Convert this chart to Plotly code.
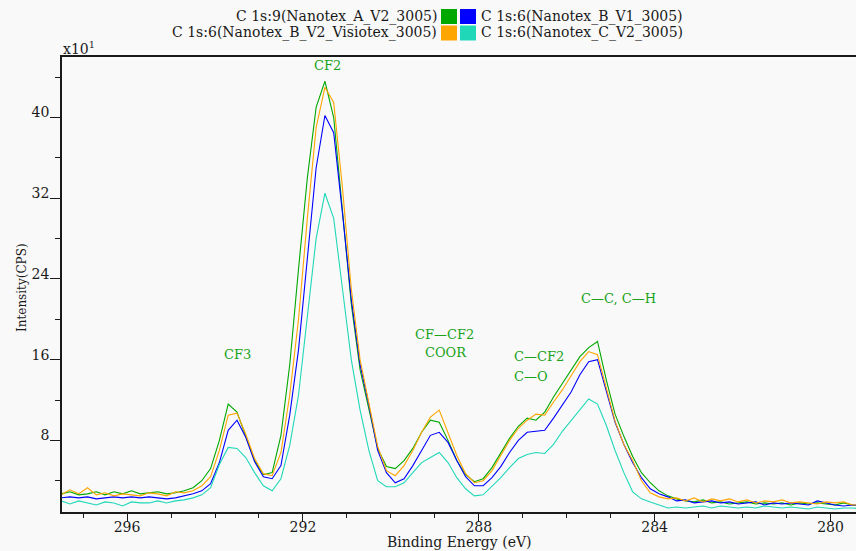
import plotly.graph_objects as go

energy = [297.5, 297.3, 297.1, 296.9, 296.7, 296.5, 296.3, 296.1, 295.9, 295.7,
          295.5, 295.3, 295.1, 294.9, 294.7, 294.5, 294.3, 294.1, 293.9, 293.7,
          293.5, 293.3, 293.1, 292.9, 292.7, 292.5, 292.3, 292.1, 291.9, 291.7,
          291.5, 291.3, 291.1, 290.9, 290.7, 290.5, 290.3, 290.1, 289.9, 289.7,
          289.5, 289.3, 289.1, 288.9, 288.7, 288.5, 288.3, 288.1, 287.9, 287.7,
          287.5, 287.3, 287.1, 286.9, 286.7, 286.5, 286.3, 286.1, 285.9, 285.7,
          285.5, 285.3, 285.1, 284.9, 284.7, 284.5, 284.3, 284.1, 283.9, 283.7,
          283.5, 283.3, 283.1, 282.9, 282.7, 282.5, 282.3, 282.1, 281.9, 281.7,
          281.5, 281.3, 281.1, 280.9, 280.7, 280.5, 280.3, 280.1, 279.9, 279.7,
          279.5, 279.3]

a_v2 = [2.7, 2.9, 2.6, 2.7, 2.9, 2.6, 2.9, 2.7, 3.0, 2.7,
        2.8, 2.9, 2.7, 2.8, 3.0, 3.3, 4.0, 5.2, 8.0, 11.6,
        10.8, 8.5, 6.0, 4.6, 4.8, 8.5, 15.5, 25.0, 34.0, 41.0,
        43.6, 40.0, 31.0, 21.5, 15.0, 11.0, 7.2, 5.4, 5.2, 6.0,
        7.2, 8.8, 10.0, 9.8, 8.0, 6.0, 4.6, 3.9, 4.2, 5.3,
        6.8, 8.2, 9.4, 10.2, 10.0, 10.8, 12.3, 13.6, 15.0, 16.3,
        17.2, 17.8, 14.0, 10.6, 8.4, 6.4, 4.8, 3.8, 3.0, 2.5,
        2.2, 2.0, 1.9, 2.1, 1.8, 1.9, 1.7, 1.8, 1.9, 1.7,
        1.8, 1.7, 1.8, 1.6, 1.8, 1.7, 1.8, 1.7, 1.6, 1.8,
        1.6, 1.5]

b_v1 = [2.3, 2.4, 2.3, 2.4, 2.2, 2.3, 2.4, 2.3, 2.4, 2.3,
        2.4, 2.3, 2.2, 2.3, 2.5, 2.7, 3.0, 3.7, 5.8, 9.0,
        10.0, 8.3, 5.9, 4.4, 4.2, 5.5, 10.5, 17.0, 26.0, 35.0,
        40.2, 38.5, 30.5, 22.0, 15.5, 11.5, 7.0, 4.8, 3.8, 4.2,
        5.5, 7.0, 8.5, 8.8, 7.8, 6.0, 4.4, 3.5, 3.5, 4.3,
        5.4, 6.8, 8.0, 8.8, 8.9, 9.0, 10.2, 11.5, 12.8, 14.5,
        15.8, 16.0, 13.0, 9.8, 7.6, 5.8, 4.3, 3.2, 2.7, 2.4,
        2.0, 2.1, 1.8, 1.9, 2.0, 1.8, 1.9, 1.7, 1.8, 1.9,
        1.6, 1.8, 1.7, 1.8, 1.7, 1.6, 2.0, 1.8, 1.6, 1.5,
        1.6, 1.5]

b_v2_visiotex = [2.6, 3.1, 2.7, 3.3, 2.6, 2.8, 2.5, 2.7, 2.6, 2.5,
                 2.8, 2.7, 2.5, 2.9, 2.8, 3.0, 3.5, 4.4, 7.0, 10.5,
                 10.7, 8.6, 6.2, 4.7, 4.5, 6.8, 12.5, 20.0, 30.0, 39.0,
                 43.0, 41.5, 33.0, 23.0, 16.0, 11.8, 7.4, 5.0, 4.5, 5.5,
                 7.0, 8.8, 10.3, 11.0, 8.8, 6.5, 4.7, 3.8, 4.0, 5.0,
                 6.5, 8.0, 9.2, 10.0, 10.6, 10.5, 11.8, 13.0, 14.4, 15.8,
                 16.8, 16.5, 13.2, 9.9, 7.6, 6.0, 4.0, 2.8, 2.4, 2.2,
                 2.3, 2.0, 2.3, 1.9, 2.2, 2.0, 2.2, 1.9, 2.1, 1.8,
                 2.0, 1.9, 2.1, 1.8, 1.9, 1.8, 1.7, 1.9, 1.8, 1.9,
                 1.6, 1.6]

c_v2 = [2.0, 1.7, 2.0, 1.8, 1.6, 1.9, 1.8, 1.5, 1.9, 1.8,
        1.8, 2.0, 1.8, 2.0, 2.1, 2.3, 2.6, 3.3, 5.6, 7.3,
        7.2, 6.3, 4.8, 3.5, 3.0, 4.2, 7.5, 12.5, 20.0, 28.0,
        32.5, 30.0, 23.0, 16.0, 11.0, 7.0, 4.0, 3.4, 3.4, 3.8,
        4.8, 5.8, 6.3, 6.8, 5.8, 4.3, 3.2, 2.5, 2.6, 3.4,
        4.3, 5.3, 6.2, 6.6, 6.8, 6.7, 7.6, 8.9, 10.0, 11.0,
        12.1, 11.6, 9.5, 7.0, 4.8, 2.9, 2.2, 1.9, 1.6, 1.3,
        1.4, 1.3, 1.4, 1.5, 1.3, 1.5, 1.4, 1.3, 1.4, 1.3,
        1.5, 1.4, 1.3, 1.4, 1.3, 1.2, 1.4, 1.3, 1.2, 1.3,
        1.3, 1.2]

series_names = ["C 1s:9(Nanotex_A_V2_3005)", "C 1s:6(Nanotex_B_V1_3005)",
                "C 1s:6(Nanotex_B_V2_Visiotex_3005)", "C 1s:6(Nanotex_C_V2_3005)"]
series_values = [a_v2, b_v1, b_v2_visiotex, c_v2]
series_colors = ["#00a800", "#0000ff", "#ffa500", "#20d8b8"]

x_tick_vals = [296, 292, 288, 284, 280]
x_tick_text = ["296", "292", "288", "284", "280"]
y_tick_vals = [8, 16, 24, 32, 40]
y_tick_text = ["8", "16", "24", "32", "40"]

peak_labels = ["CF2", "CF3", "CF\u2014CF2", "COOR", "C\u2014C, C\u2014H"]
peak_label_x = [291.45, 293.49, 288.77, 288.75, 284.83]
peak_label_y = [45.2, 16.5, 18.5, 16.7, 22.05]
left_labels = ["C\u2014CF2", "C\u2014O"]
left_label_x = [287.24, 287.24]
left_label_y = [16.3, 14.3]

SERIF = "DejaVu Serif"
LBL_GREEN = "#1aa31a"
INK = "#1a1a1a"

fig = go.Figure()
for name, vals, col in zip(series_names, series_values, series_colors):
    fig.add_trace(go.Scatter(x=energy, y=vals, mode="lines", name=name,
                             line=dict(color=col, width=1.1), showlegend=False))

W, H = 856, 551
L, R, T, B = 62, 0, 57, 39
pw, ph = W - L - R, H - T - B

def px(xp):
    return (xp - L) / pw

def py(yp):
    return (H - B - yp) / ph

annotations = []
for t, x, y in zip(peak_labels, peak_label_x, peak_label_y):
    annotations.append(dict(x=x, y=y, xref="x", yref="y", text=t, showarrow=False,
                            font=dict(family=SERIF, size=13, color=LBL_GREEN),
                            xanchor="center", yanchor="middle"))
for t, x, y in zip(left_labels, left_label_x, left_label_y):
    annotations.append(dict(x=x, y=y, xref="x", yref="y", text=t, showarrow=False,
                            font=dict(family=SERIF, size=13, color=LBL_GREEN),
                            xanchor="left", yanchor="middle"))

# legend (two rows, squares in the middle)
leg_font = dict(family=SERIF, size=14, color=INK)
rows = [(16.5, 0, 1), (33, 2, 3)]
for yc, li, ri in rows:
    annotations.append(dict(x=px(438), y=py(yc), xref="paper", yref="paper",
                            text=series_names[li], showarrow=False, font=leg_font,
                            xanchor="right", yanchor="middle", borderpad=0))
    annotations.append(dict(x=px(480), y=py(yc), xref="paper", yref="paper",
                            text=series_names[ri], showarrow=False, font=leg_font,
                            xanchor="left", yanchor="middle", borderpad=0))

shapes = []
for (yc, li, ri) in rows:
    shapes.append(dict(type="rect", xref="paper", yref="paper",
                       x0=px(441), x1=px(457), y0=py(yc + 7.5), y1=py(yc - 7.5),
                       fillcolor=series_colors[li], line=dict(width=0)))
    shapes.append(dict(type="rect", xref="paper", yref="paper",
                       x0=px(460), x1=px(476), y0=py(yc + 7.5), y1=py(yc - 7.5),
                       fillcolor=series_colors[ri], line=dict(width=0)))

annotations.append(dict(x=px(61), y=py(57), xref="paper", yref="paper",
                        text="x10<sup>1</sup>", showarrow=False,
                        font=dict(family=SERIF, size=14, color=INK),
                        xanchor="left", yanchor="bottom", yshift=-2))
annotations.append(dict(x=px(22), y=py(288), xref="paper", yref="paper",
                        text="Intensity(CPS)", showarrow=False, textangle=-90,
                        font=dict(family=SERIF, size=12, color=INK),
                        xanchor="center", yanchor="middle"))
annotations.append(dict(x=px(459), y=py(542), xref="paper", yref="paper",
                        text="Binding Energy (eV)", showarrow=False,
                        font=dict(family=SERIF, size=14, color=INK),
                        xanchor="center", yanchor="middle"))

fig.update_layout(
    width=W, height=H,
    margin=dict(l=L, r=R, t=T, b=B, pad=0),
    paper_bgcolor="#f9f9f9", plot_bgcolor="#f9f9f9",
    showlegend=False,
    annotations=annotations, shapes=shapes,
    xaxis=dict(range=[297.48, 279.42], tickmode="array", tickvals=x_tick_vals,
               ticktext=x_tick_text, ticks="outside", ticklen=8, tickwidth=1,
               tickcolor=INK, showline=True, linecolor=INK, linewidth=1.5,
               mirror=True, showgrid=False, zeroline=False, ticklabelstandoff=-7,
               tickfont=dict(family=SERIF, size=14, color=INK),
               minor=dict(dtick=1, tick0=280, ticks="outside", ticklen=4,
                          tickcolor=INK, showgrid=False)),
    yaxis=dict(range=[0.9, 46.0], tickmode="array", tickvals=y_tick_vals,
               ticktext=y_tick_text, ticks="outside", ticklen=10, tickwidth=1,
               tickcolor=INK, showline=True, linecolor=INK, linewidth=1.5,
               mirror=False, showgrid=False, zeroline=False, ticklabelshift=-5,
               ticklabelstandoff=-2,
               tickfont=dict(family=SERIF, size=14, color=INK),
               minor=dict(dtick=4, tick0=0, ticks="outside", ticklen=5,
                          tickcolor=INK, showgrid=False)),
)

fig.write_html("out.html")
